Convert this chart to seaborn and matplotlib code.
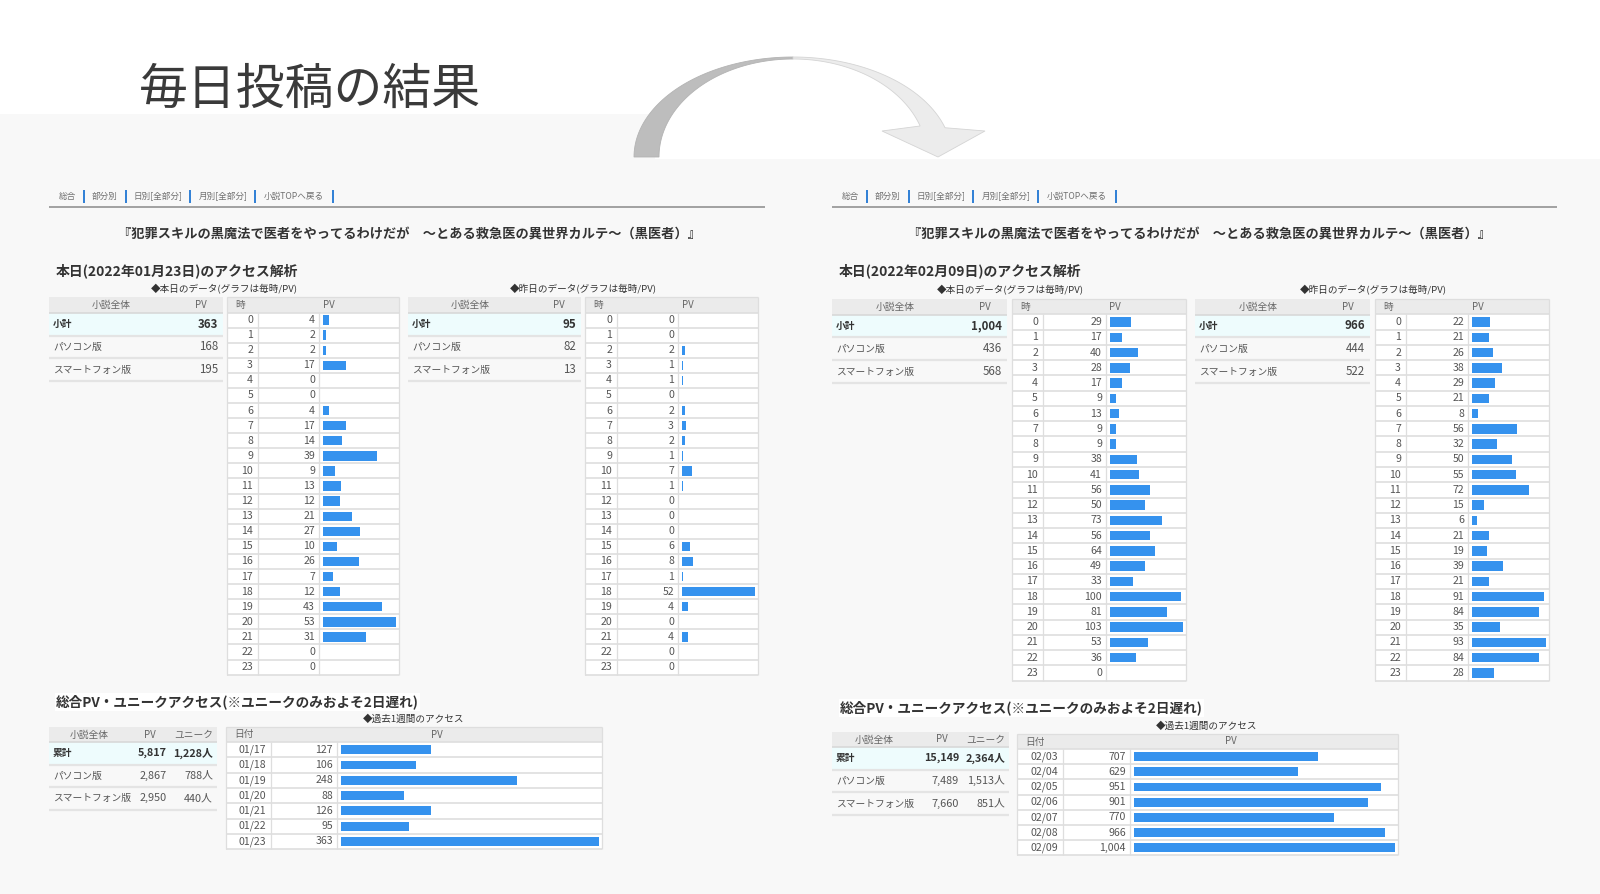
import numpy as np
import pandas as pd
import matplotlib
matplotlib.use("Agg")
import matplotlib.pyplot as plt
from matplotlib.patches import Rectangle, Polygon
import seaborn as sns

# ---------------- data ----------------
hours = [str(h) for h in range(24)]
jan_today_pv = [4, 2, 2, 17, 0, 0, 4, 17, 14, 39, 9, 13, 12, 21, 27, 10, 26, 7, 12, 43, 53, 31, 0, 0]
jan_yest_pv = [0, 0, 2, 1, 1, 0, 2, 3, 2, 1, 7, 1, 0, 0, 0, 6, 8, 1, 52, 4, 0, 4, 0, 0]
feb_today_pv = [29, 17, 40, 28, 17, 9, 13, 9, 9, 38, 41, 56, 50, 73, 56, 64, 49, 33, 100, 81, 103, 53, 36, 0]
feb_yest_pv = [22, 21, 26, 38, 29, 21, 8, 56, 32, 50, 55, 72, 15, 6, 21, 19, 39, 21, 91, 84, 35, 93, 84, 28]

jan_days = ["01/17", "01/18", "01/19", "01/20", "01/21", "01/22", "01/23"]
jan_week_pv = [127, 106, 248, 88, 126, 95, 363]
feb_days = ["02/03", "02/04", "02/05", "02/06", "02/07", "02/08", "02/09"]
feb_week_pv = [707, 629, 951, 901, 770, 966, 1004]

device_labels = ["小計", "パソコン版", "スマートフォン版"]
jan_today_dev = [363, 168, 195]
jan_yest_dev = [95, 82, 13]
feb_today_dev = [1004, 436, 568]
feb_yest_dev = [966, 444, 522]

total_labels = ["累計", "パソコン版", "スマートフォン版"]
jan_total_pv = [5817, 2867, 2950]
jan_total_uu = [1228, 788, 440]
feb_total_pv = [15149, 7489, 7660]
feb_total_uu = [2364, 1513, 851]

nav_items = ["総合", "部分別", "日別[全部分]", "月別[全部分]", "小説TOPへ戻る"]
novel_title = "『犯罪スキルの黒魔法で医者をやってるわけだが　～とある救急医の異世界カルテ～（黒医者）』"
slide_title = "毎日投稿の結果"

# ---------------- style ----------------
sns.set_style("white")
plt.rcParams["font.family"] = ["Noto Sans CJK JP", "DejaVu Sans"]

W, H = 1600, 894
BG = "#f8f8f8"
HDR = "#ebebeb"
LINE = "#dedede"
TXT = "#555555"
DARK = "#333333"
BLUE = "#3592ee"
HILITE = "#eefcfd"

fig = plt.figure(figsize=(16, 8.94), dpi=100)
page = fig.add_axes([0, 0, 1, 1])
page.set_xlim(0, W)
page.set_ylim(H, 0)
page.axis("off")


def txt(x, y, s, size=7, color=TXT, ha="left", weight="normal", **kw):
    page.text(x, y, s, fontsize=size, color=color, ha=ha, va="center",
              fontweight=weight, **kw)


def hline(x0, x1, y, color=LINE, lw=0.9):
    page.plot([x0, x1], [y, y], color=color, lw=lw, solid_capstyle="butt")


def vline(x, y0, y1, color=LINE, lw=0.9):
    page.plot([x, x], [y0, y1], color=color, lw=lw, solid_capstyle="butt")


def bar_column(xa, xb, ya, yb, labels, values, width):
    ax = fig.add_axes([xa / W, 1 - yb / H, (xb - xa) / W, (yb - ya) / H])
    df = pd.DataFrame({"label": labels, "pv": values})
    sns.barplot(data=df, x="pv", y="label", orient="h", color=BLUE,
                saturation=1, width=width, ax=ax, edgecolor="none")
    span = xb - xa
    scale = (span - 7) / max(values)
    ax.set_xlim(-4 / scale, (span - 4) / scale)
    ax.set_ylim(len(labels) - 0.5, -0.5)
    ax.patch.set_alpha(0)
    ax.axis("off")


def hourly_table(x0, d1, d2, x1, ytop, hdr, rh, labels, values, first="時"):
    n = len(labels)
    yb = ytop + hdr
    ybot = yb + n * rh
    page.add_patch(Rectangle((x0, ytop), x1 - x0, hdr, fc=HDR, ec="none"))
    page.add_patch(Rectangle((x0, yb), x1 - x0, n * rh, fc="white", ec="none"))
    for i in range(n + 1):
        hline(x0, x1, yb + i * rh, lw=1.2)
    hline(x0, x1, ytop)
    for xx in (x0, x1):
        vline(xx, ytop, ybot)
    for xx in (d1, d2):
        vline(xx, yb, ybot)
    txt(x0 + 8, ytop + hdr / 2, first, color="#666666")
    txt((d1 + x1) / 2, ytop + hdr / 2, "PV", color="#666666", ha="center")
    for i, (lab, v) in enumerate(zip(labels, values)):
        cy = yb + (i + 0.5) * rh
        txt(d1 - 5, cy, lab, ha="right", size=7.6)
        txt(d2 - 4, cy, f"{v:,}", ha="right", size=7.6)
    return yb, ybot


def device_table(x0, x1, ytop, hdr, rh, labels, values):
    yb = ytop + hdr
    page.add_patch(Rectangle((x0, ytop), x1 - x0, hdr, fc=HDR, ec="none"))
    hline(x0, x1, yb, color="#d8d8d8", lw=1.2)
    txt(x0 + 0.36 * (x1 - x0), ytop + hdr / 2, "小説全体", color="#666666", ha="center")
    txt(x1 - 22, ytop + hdr / 2, "PV", color="#666666", ha="center")
    for i, (lab, v) in enumerate(zip(labels, values)):
        y0 = yb + i * rh
        if i == 0:
            page.add_patch(Rectangle((x0, y0), x1 - x0, rh, fc=HILITE, ec="none"))
        hline(x0, x1, y0 + rh, color="#e4e4e4", lw=1.6)
        bold = "bold" if i == 0 else "normal"
        col = DARK if i == 0 else TXT
        txt(x0 + 4, y0 + rh / 2, lab, weight=bold, color=col)
        txt(x1 - 5, y0 + rh / 2, f"{v:,}", ha="right", weight=bold, color=col, size=8.3)


def total_table(x0, x1, ytop, hdr, rh, labels, pv, uu):
    yb = ytop + hdr
    page.add_patch(Rectangle((x0, ytop), x1 - x0, hdr, fc=HDR, ec="none"))
    hline(x0, x1, yb, color="#d8d8d8", lw=1.2)
    txt(x0 + 0.24 * (x1 - x0), ytop + hdr / 2, "小説全体", color="#666666", ha="center")
    txt(x1 - 67, ytop + hdr / 2, "PV", color="#666666", ha="center")
    txt(x1 - 23, ytop + hdr / 2, "ユニーク", color="#666666", ha="center")
    for i, (lab, p, u) in enumerate(zip(labels, pv, uu)):
        y0 = yb + i * rh
        if i == 0:
            page.add_patch(Rectangle((x0, y0), x1 - x0, rh, fc=HILITE, ec="none"))
        hline(x0, x1, y0 + rh, color="#e4e4e4", lw=1.6)
        bold = "bold" if i == 0 else "normal"
        col = DARK if i == 0 else TXT
        txt(x0 + 4, y0 + rh / 2, lab, weight=bold, color=col)
        txt(x1 - 50, y0 + rh / 2, f"{p:,}", ha="right", weight=bold, color=col, size=7.8)
        txt(x1 - 4, y0 + rh / 2, f"{u:,}人", ha="right", weight=bold, color=col, size=7.8)


# ---------------- background ----------------
page.add_patch(Rectangle((0, 114), 655, H - 114, fc=BG, ec="none"))
page.add_patch(Rectangle((0, 159), W, H - 159, fc=BG, ec="none"))

# curved arrow
cx, cy = 793, 157
t_l = np.linspace(np.pi, np.pi / 2, 60)
left_poly = np.vstack([
    np.c_[cx + 159 * np.cos(t_l), cy - 100 * np.sin(t_l)],
    np.c_[cx + 134 * np.cos(t_l[::-1]), cy - 98 * np.sin(t_l[::-1])],
])
page.add_patch(Polygon(left_poly, closed=True, fc="#bdbdbd", ec="#b3b3b3", lw=0.6))
t_ro = np.linspace(np.pi / 2, 0.297, 60)
t_ri = np.linspace(0.322, np.pi / 2, 60)
right_poly = np.vstack([
    np.c_[cx + 159 * np.cos(t_ro), cy - 100 * np.sin(t_ro)],
    [[985, 131], [938, 157], [882, 131]],
    np.c_[cx + 134 * np.cos(t_ri), cy - 98 * np.sin(t_ri)],
])
page.add_patch(Polygon(right_poly, closed=True, fc="#ececec", ec="#d4d4d4", lw=0.6))

txt(139, 90, slide_title, size=35.2, color="#3a3a3a")

# ---------------- panels ----------------
nav_pos = [18, 56, 109, 174, 245]
nav_sep = [35, 77, 141, 206, 284]


def header_block(px, rule_end, title_cx, date_text):
    for s, c in zip(nav_items, nav_pos):
        txt(px + c, 196, s, size=6.2, color="#707070", ha="center")
    for c in nav_sep:
        vline(px + c, 189.5, 202.5, color="#2f7fd6", lw=1.4)
    hline(px, rule_end, 206.5, color="#9a9a9a", lw=1.3)
    txt(title_cx, 234, novel_title, size=9.5, color=DARK, ha="center", weight="bold")
    txt(px + 7, 271, date_text, size=10, color=DARK, weight="bold")


# left (January)
header_block(49, 765, 410, "本日(2022年01月23日)のアクセス解析")
txt(224, 289, "◆本日のデータ(グラフは毎時/PV)", size=6.9, color=DARK, ha="center")
txt(583, 289, "◆昨日のデータ(グラフは毎時/PV)", size=6.9, color=DARK, ha="center")
device_table(49, 223, 297, 16, 22.6, device_labels, jan_today_dev)
device_table(408, 581, 297, 16, 22.6, device_labels, jan_yest_dev)
ya, yb = hourly_table(227, 258, 319, 399, 297, 15.5, 15.09, hours, jan_today_pv)
bar_column(319, 399, ya, yb, hours, jan_today_pv, 0.62)
ya, yb = hourly_table(585, 617, 678, 758, 297, 15.5, 15.09, hours, jan_yest_pv)
bar_column(678, 758, ya, yb, hours, jan_yest_pv, 0.62)

txt(56, 702, "総合PV・ユニークアクセス(※ユニークのみおよそ2日遅れ)", size=9.8,
    color=DARK, weight="bold", bbox=dict(fc="white", ec="none", pad=1))
txt(414, 719, "◆過去1週間のアクセス", size=6.9, color=DARK, ha="center")
total_table(49, 217, 727, 15, 22.5, total_labels, jan_total_pv, jan_total_uu)
ya, yb = hourly_table(226, 271, 337, 602, 727, 15, 15.3, jan_days, jan_week_pv, first="日付")
bar_column(337, 602, ya, yb, jan_days, jan_week_pv, 0.58)

# right (February)
header_block(832, 1557, 1200, "本日(2022年02月09日)のアクセス解析")
txt(1010, 290, "◆本日のデータ(グラフは毎時/PV)", size=6.9, color=DARK, ha="center")
txt(1373, 290, "◆昨日のデータ(グラフは毎時/PV)", size=6.9, color=DARK, ha="center")
device_table(832, 1007, 299, 15.5, 22.8, device_labels, feb_today_dev)
device_table(1195, 1370, 299, 15.5, 22.8, device_labels, feb_yest_dev)
ya, yb = hourly_table(1012, 1043, 1106, 1186, 299, 15.4, 15.26, hours, feb_today_pv)
bar_column(1106, 1186, ya, yb, hours, feb_today_pv, 0.62)
ya, yb = hourly_table(1375, 1406, 1468, 1549, 299, 15.4, 15.26, hours, feb_yest_pv)
bar_column(1468, 1549, ya, yb, hours, feb_yest_pv, 0.62)

txt(840, 708, "総合PV・ユニークアクセス(※ユニークのみおよそ2日遅れ)", size=9.8,
    color=DARK, weight="bold", bbox=dict(fc="white", ec="none", pad=1))
txt(1207, 726, "◆過去1週間のアクセス", size=6.9, color=DARK, ha="center")
total_table(832, 1009, 732, 15, 22.6, total_labels, feb_total_pv, feb_total_uu)
ya, yb = hourly_table(1017, 1063, 1130, 1398, 734, 15, 15.2, feb_days, feb_week_pv, first="日付")
bar_column(1130, 1398, ya, yb, feb_days, feb_week_pv, 0.58)

fig.savefig("out.png", dpi=100)
plt.close(fig)
